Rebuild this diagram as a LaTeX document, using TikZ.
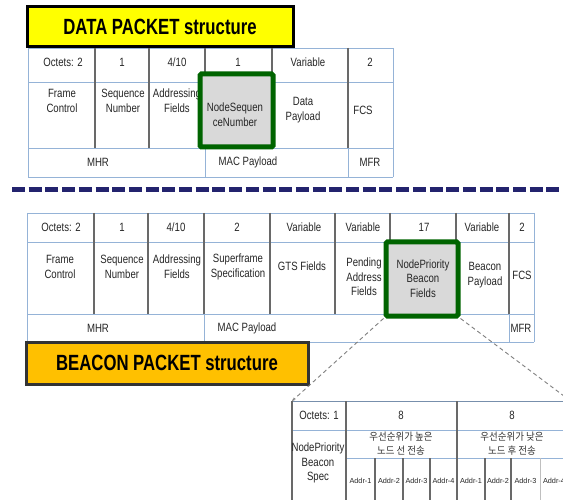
\documentclass[tikz,border=0pt]{standalone}
\usepackage{fontspec}
\setmainfont{Liberation Sans}
\newfontfamily\bodyfont{Liberation Sans}[FakeStretch=0.8]
\newfontfamily\krfont{Noto Sans CJK KR}[FakeStretch=0.92]
\usetikzlibrary{arrows.meta}
\definecolor{tblue}{RGB}{149,179,215}
\definecolor{tgray}{RGB}{105,105,105}
\definecolor{navyd}{RGB}{35,35,110}
\definecolor{dgreen}{RGB}{0,100,0}
\definecolor{boxgray}{RGB}{217,217,217}
\definecolor{ttlyellow}{RGB}{255,255,0}
\definecolor{ttlorange}{RGB}{255,192,0}
\tikzset{
  txt/.style={font=\bodyfont\fontsize{12}{14.6}\selectfont, align=center, inner sep=0pt, text=black!85},
  smalltxt/.style={font=\fontsize{7.3}{9}\selectfont, inner sep=0pt, text=black!85},
  krtxt/.style={font=\krfont\fontsize{10.3}{14}\selectfont, align=center, inner sep=0pt, text=black!80},
  hline/.style={draw=tblue, line width=0.9pt},
  vline/.style={draw=tgray, line width=1.1pt},
  lvline/.style={draw=black!25, line width=1pt},
  greenbox/.style={draw=dgreen, line width=5pt, fill=boxgray, rounded corners=1.5pt, inner sep=0pt},
  titlebox/.style={line width=3pt, inner sep=0pt, minimum height=#1, font=\fontsize{22}{24}\selectfont\bfseries, text=black},
  zoomline/.style={draw=black!50, line width=0.9pt, dash pattern=on 4pt off 3pt},
  sepline/.style={draw=navyd, line width=5pt, dash pattern=on 13pt off 3.7pt}
}
\begin{document}
\begin{tikzpicture}[x=1pt,y=-1pt]
\useasboundingbox (0,0) rectangle (563,500);
\clip (0,0) rectangle (563,500);
\fill[white] (0,0) rectangle (563,500);

% ================= DATA table =================
\foreach \yy in {48,82,148,177} \draw[hline] (28,\yy) -- (393,\yy);
\draw[hline] (28,48) -- (28,177);
\draw[hline] (393,48) -- (393,177);
\foreach \xx in {95,149,205,272,348} \draw[vline] (\xx,48) -- (\xx,148);
\draw[hline] (205,148) -- (205,177);
\draw[hline] (348,148) -- (348,177);

\node[txt] (d1) at (63,62) {Octets: 2};
\node[txt] (d2) at (122,62) {1};
\node[txt] (d3) at (177,62) {4/10};
\node[txt] (d4) at (238,62) {1};
\node[txt] (d5) at (308,62) {Variable};
\node[txt] (d6) at (370,62) {2};
\node[txt] (dfc) at (62,101) {Frame\\Control};
\node[txt] (dsn) at (123,101) {Sequence\\Number};
\node[txt] (daf) at (177,101) {Addressing\\Fields};
\node[greenbox, minimum width=73pt, minimum height=73pt] (dgreen) at (236.5,110.5) {};
\node[txt] (dnsn) at (235,115) {NodeSequen\\ceNumber};
\node[txt] (ddp) at (303,110) {Data\\Payload};
\node[txt] (dfcs) at (363,110) {FCS};
\node[txt] (dmhr) at (98,162) {MHR};
\node[txt] (dmac) at (248,162) {MAC Payload};
\node[txt] (dmfr) at (370,162) {MFR};

% DATA title
\node[titlebox=40pt, draw=black, fill=ttlyellow, minimum width=266pt] (dtitle) at (160,27)
  {\scalebox{0.76}[1]{DATA PACKET structure}};

% ================= separator =================
\coordinate (sepL) at (12,190);
\coordinate (sepR) at (563,190);
\draw[sepline] (sepL) -- (sepR);

% ================= BEACON table =================
\foreach \yy in {213,242,314,342} \draw[hline] (27,\yy) -- (534,\yy);
\draw[hline] (27,213) -- (27,342);
\draw[hline] (534,213) -- (534,342);
\foreach \xx in {94,148,204,270,335,390,456,509} \draw[vline] (\xx,213) -- (\xx,314);
\draw[hline] (204,314) -- (204,342);
\draw[hline] (509,314) -- (509,342);

\node[txt] (b1) at (61,227) {Octets: 2};
\node[txt] (b2) at (122,227) {1};
\node[txt] (b3) at (176,227) {4/10};
\node[txt] (b4) at (237,227) {2};
\node[txt] (b5) at (304,227) {Variable};
\node[txt] (b6) at (363,227) {Variable};
\node[txt] (b7) at (424,227) {17};
\node[txt] (b8) at (482,227) {Variable};
\node[txt] (b9) at (522,227) {2};
\node[txt] (bfc) at (60,267) {Frame\\Control};
\node[txt] (bsn) at (122,267) {Sequence\\Number};
\node[txt] (baf) at (177,267) {Addressing\\Fields};
\node[txt] (bss) at (238,267) {Superframe\\Specification};
\node[txt] (bgts) at (302,266) {GTS Fields};
\node[txt] (bpaf) at (364,277) {Pending\\Address\\Fields};
\node[greenbox, minimum width=72pt, minimum height=74pt] (bgreen) at (422,279) {};
\node[txt] (bnpb) at (423,278.5) {NodePriority\\Beacon\\Fields};
\node[txt] (bbp) at (485,275) {Beacon\\Payload};
\node[txt] (bfcs) at (522,275) {FCS};
\node[txt] (bmhr) at (98,328) {MHR};
\node[txt] (bmac) at (247,328) {MAC Payload};
\node[txt] (bmfr) at (521,328) {MFR};

% BEACON title
\node[titlebox=42pt, draw=black!80, fill=ttlorange, minimum width=282pt] (btitle) at (167,363)
  {\scalebox{0.76}[1]{BEACON PACKET structure}};

% ================= sub table =================
\coordinate (stl) at (292,401);
\coordinate (str) at (572,402);
\draw[zoomline, -{Stealth[length=3.5pt,width=3pt]}] (bgreen.south west) -- (stl);
\draw[zoomline] (bgreen.south east) -- (str);

\draw[draw=tblue!80!black, line width=1pt] (292,401) -- (575,401);
\draw[hline] (292,430) -- (575,430);
\draw[hline] (346,458) -- (575,458);
\draw[vline] (292,401) -- (292,505);
\draw[vline] (346,401) -- (346,505);
\draw[vline] (457,401) -- (457,505);
\foreach \xx in {375,403,430,485,511} \draw[vline] (\xx,458) -- (\xx,505);
\draw[lvline] (540,458) -- (540,505);

\node[txt] (s1) at (319,415) {Octets: 1};
\node[txt] (s2) at (401,415) {8};
\node[txt] (s3) at (512,415) {8};
\node[krtxt] (shi) at (401,444) {우선순위가 높은\\노드 선 전송};
\node[krtxt] (slo) at (512,444) {우선순위가 낮은\\노드 후 전송};
\node[txt] (snpb) at (318,463) {NodePriority\\Beacon\\Spec};
\node[smalltxt] (a1) at (360.5,481) {Addr-1};
\node[smalltxt] (a2) at (389,481) {Addr-2};
\node[smalltxt] (a3) at (416.5,481) {Addr-3};
\node[smalltxt] (a4) at (443.5,481) {Addr-4};
\node[smalltxt] (a5) at (471,481) {Addr-1};
\node[smalltxt] (a6) at (498,481) {Addr-2};
\node[smalltxt] (a7) at (525.5,481) {Addr-3};
\node[smalltxt] (a8) at (554,481) {Addr-4};
\end{tikzpicture}
\end{document}
